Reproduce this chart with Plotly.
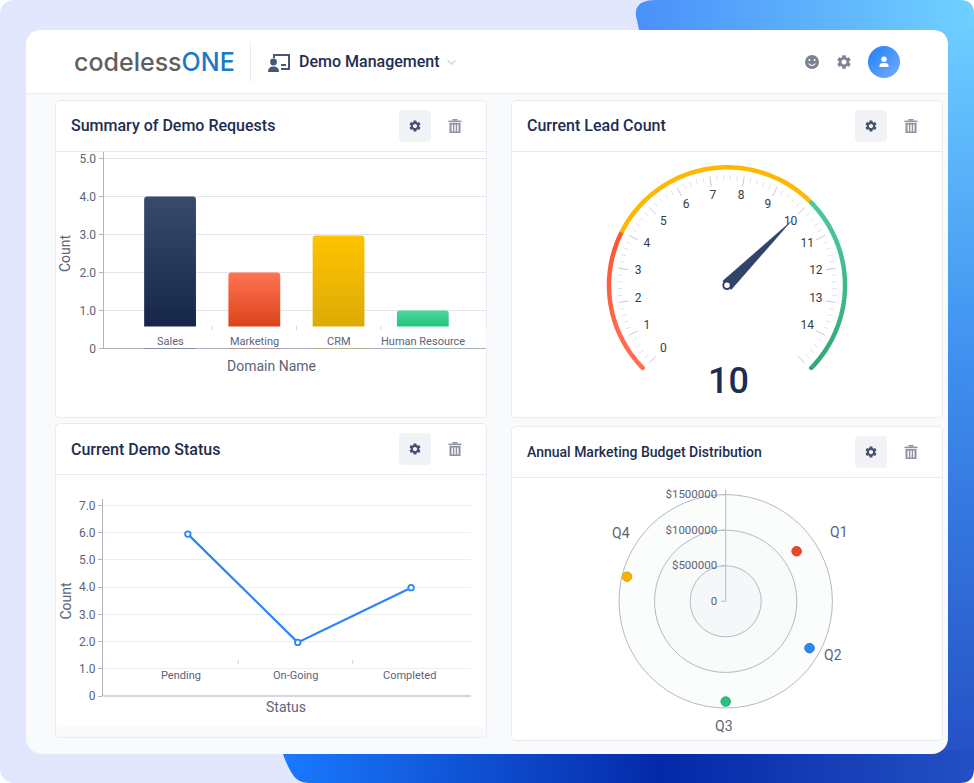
import base64
import json
import numpy as np
import plotly.graph_objects as go

W, H = 974, 783

# ---- data ----
domains = ["Sales", "Marketing", "CRM", "Human Resource"]
domain_counts = [4.0, 2.0, 2.97, 1.0]
domain_ticks = [0, 1, 2, 3, 4, 5]
domain_tick_text = ["0", "1.0", "2.0", "3.0", "4.0", "5.0"]

statuses = ["Pending", "On-Going", "Completed"]
status_pos = [0.06, 1.02, 2.01]
status_counts = [5.95, 1.97, 3.98]
status_ticks = [0, 1, 2, 3, 4, 5, 6, 7]
status_tick_text = ["0", "1.0", "2.0", "3.0", "4.0", "5.0", "6.0", "7.0"]

gauge_value = 10
gauge_max = 15
gauge_labels = list(range(15))
gauge_bands = [(0, 4), (4, 10), (10, 15)]

quarters = ["Q1", "Q2", "Q3", "Q4"]
budget = [1220000, 1350000, 1410000, 1430000]
budget_angle = [54.8, 119.2, 180, 284]
budget_ticks = [0, 500000, 1000000, 1500000]
budget_tick_text = ["0", "$500000", "$1000000", "$1500000"]

INK = "#1e2d4f"
MUTED = "#5b6479"
ROBOTO = "Roboto"


def px(x):
    return x / W


def py(y):
    return 1 - y / H


# ---- backdrop ----
def card(x0, y0, x1, y1):
    return (f'<rect x="{x0}" y="{y0}" width="{x1-x0}" height="{y1-y0}" rx="4" '
            'fill="#ffffff" stroke="#e9ebf1" stroke-width="1"/>')


def hline(y, x0, x1, c="#e9ebf1"):
    return f'<line x1="{x0}" x2="{x1}" y1="{y}" y2="{y}" stroke="{c}" stroke-width="1"/>'


cx_r, cy_r = 725.7, 601.3
backdrop = f'''<svg xmlns="http://www.w3.org/2000/svg" width="{W}" height="{H}" viewBox="0 0 {W} {H}">
<defs>
<clipPath id="blue"><path d="M656 0 L960 0 Q974 0 974 14 L974 769 Q974 783 960 783 L308 783 Q297 783 291 772 Q286 763 283 754 L639 30 L636 16 Q634 0 656 0 Z"/></clipPath>
<linearGradient id="top" x1="0" x2="1" y1="0" y2="0"><stop offset="0" stop-color="#4a8ffa"/><stop offset="1" stop-color="#6fd0ff"/></linearGradient>
<linearGradient id="right" x1="0" x2="0" y1="0" y2="1"><stop offset="0" stop-color="#6cccff"/><stop offset="0.45" stop-color="#3f90f0"/><stop offset="1" stop-color="#2450c4"/></linearGradient>
<linearGradient id="bottom" x1="0" x2="1" y1="0" y2="0"><stop offset="0" stop-color="#1a7aff"/><stop offset="0.55" stop-color="#0429a8"/><stop offset="1" stop-color="#2450c4"/></linearGradient>
</defs>
<rect x="0" y="0" width="{W}" height="{H}" fill="#ffffff"/>
<rect x="0" y="0" width="{W}" height="{H}" rx="14" fill="#e3e7fd"/>
<g clip-path="url(#blue)">
<rect x="630" y="0" width="344" height="40" fill="url(#top)"/>
<rect x="940" y="30" width="34" height="730" fill="url(#right)"/>
<rect x="280" y="750" width="694" height="33" fill="url(#bottom)"/>
</g>
<rect x="26" y="30" width="922" height="724" rx="16" fill="#f9fafc"/>
<path d="M26 93 L26 46 Q26 30 42 30 L932 30 Q948 30 948 46 L948 93 Z" fill="#ffffff"/>
{hline(93.5, 26, 948)}
<line x1="250.5" x2="250.5" y1="42" y2="82" stroke="#e9ebf1"/>
{card(55.5, 100.5, 486.5, 417.5)}{hline(151.5, 56, 486)}
{card(511.5, 100.5, 942.5, 417.5)}{hline(151.5, 512, 942)}
{card(55.5, 423.5, 486.5, 737.5)}{hline(474.5, 56, 486)}
<path d="M56.5 727 L485.5 727 L485.5 733 Q485.5 737 481.5 737 L60.5 737 Q56.5 737 56.5 733 Z" fill="#f9fafc"/>
{card(511.5, 426.5, 942.5, 740.5)}{hline(477.5, 512, 942)}
<circle cx="{cx_r}" cy="{cy_r}" r="106.7" fill="#fbfcfc"/>
<circle cx="{cx_r}" cy="{cy_r}" r="71.1" fill="#f9fafa"/>
<circle cx="{cx_r}" cy="{cy_r}" r="35.6" fill="#f6f7f8"/>
</svg>'''

GEAR = ("M19.14 12.94c.04-.3.06-.61.06-.94 0-.32-.02-.64-.07-.94l2.03-1.58a.49.49 0 0 0 .12-.61l-1.92-3.32a.488.488 0 0 0-.59-.22l-2.39.96c-.5-.38-1.03-.7-1.62-.94l-.36-2.54a.484.484 0 0 0-.48-.41h-3.84c-.24 0-.43.17-.47.41l-.36 2.54c-.59.24-1.13.57-1.62.94l-2.39-.96c-.22-.08-.47 0-.59.22L2.74 8.87c-.12.21-.08.47.12.61l2.03 1.58c-.05.3-.09.63-.09.94s.02.64.07.94l-2.03 1.58a.49.49 0 0 0-.12.61l1.92 3.32c.12.22.37.29.59.22l2.39-.96c.5.38 1.03.7 1.62.94l.36 2.54c.05.24.24.41.48.41h3.84c.24 0 .44-.17.47-.41l.36-2.54c.59-.24 1.13-.56 1.62-.94l2.39.96c.22.08.47 0 .59-.22l1.92-3.32c.12-.22.07-.47-.12-.61l-2.01-1.58zM12 15.6c-1.98 0-3.6-1.62-3.6-3.6s1.62-3.6 3.6-3.6 3.6 1.62 3.6 3.6-1.62 3.6-3.6 3.6z")


def gear(cx, cy, size, color):
    s = size / 24
    return (f'<path transform="translate({cx-size/2} {cy-size/2}) scale({s})" '
            f'd="{GEAR}" fill="{color}" fill-rule="evenodd"/>')


def trash(cx, cy):
    c = "#8d93a3"
    return (f'<g transform="translate({cx-6.5} {cy-7})" fill="{c}">'
            '<rect x="0" y="1.6" width="13" height="1.6"/><rect x="4" y="0" width="5" height="1.6"/>'
            '<path fill-rule="evenodd" d="M1 4 H12 V14 H1 Z M3 5.5 V12.5 H4.4 V5.5 Z M5.8 5.5 V12.5 H7.2 V5.5 Z M8.6 5.5 V12.5 H10 V5.5 Z"/></g>')


def button(cx, cy):
    return (f'<rect x="{cx-16}" y="{cy-16}" width="32" height="32" rx="4" fill="#f2f3f7"/>'
            + gear(cx, cy, 14, "#45516c") + trash(cx + 40, cy))


icons = f'''<svg xmlns="http://www.w3.org/2000/svg" width="{W}" height="{H}" viewBox="0 0 {W} {H}">
<defs><linearGradient id="av" x1="0" y1="0" x2="1" y2="1"><stop offset="0" stop-color="#1f7ff8"/><stop offset="1" stop-color="#74aefb"/></linearGradient></defs>
{button(415, 126)}{button(871, 126)}{button(415, 449)}{button(871, 452)}
<g fill="#44587a">
<path fill-rule="evenodd" d="M273 54 H290 V70 H281 V68 H288 V56 H275 V58 H273 Z"/>
<rect x="281" y="64" width="5" height="2"/>
<circle cx="273.5" cy="62" r="3.4"/>
<path d="M268 72 Q268 66.5 273.5 66.5 Q279 66.5 279 72 Z"/>
</g>
<path d="M447.5 60.5 L451.5 64 L455.5 60.5" fill="none" stroke="#d3d6dd" stroke-width="1.5"/>
<circle cx="812" cy="62" r="7" fill="#7c8494"/>
<circle cx="809.4" cy="60" r="1" fill="#fff"/><circle cx="814.6" cy="60" r="1" fill="#fff"/>
<path d="M808.6 63.5 Q812 67.5 815.4 63.5" fill="none" stroke="#fff" stroke-width="1.1"/>
{gear(844, 62, 17, "#7c8494")}
<circle cx="884" cy="62" r="16" fill="url(#av)"/>
<circle cx="884" cy="59.3" r="2.7" fill="#fff"/>
<path d="M879.5 67 V65.4 Q879.5 63 884 63 Q888.5 63 888.5 65.4 V67 Z" fill="#fff"/>
</svg>'''


def uri(svg):
    return "data:image/svg+xml;base64," + base64.b64encode(svg.encode()).decode()


def full_image(svg, layer):
    return dict(source=uri(svg), xref="paper", yref="paper", x=0, y=1, sizex=1, sizey=1,
                xanchor="left", yanchor="top", sizing="stretch", layer=layer)


fig = go.Figure()

# ---- bar chart ----
BAR_FLOOR_PX = 326.4   # the label band hides the lower part of every bar
fig.add_trace(go.Bar(x=domains, y=domain_counts,
                     marker=dict(color=["#263a5c", "#ee5a30", "#efb602", "#3ad08e"], line=dict(width=0)),
                     width=0.615, xaxis="x", yaxis="y", hoverinfo="skip"))

# ---- line chart ----
BLUE = "#2b85f8"
fig.add_trace(go.Scatter(x=status_pos, y=status_counts, mode="lines+markers",
                         line=dict(color=BLUE, width=2.2),
                         marker=dict(size=5.5, color="#ffffff", line=dict(color=BLUE, width=1.8)),
                         xaxis="x2", yaxis="y2", hoverinfo="skip", cliponaxis=False))


# ---- gauge ----
def angle(v):
    return v * 270 / gauge_max - 135


minor_r, minor_t, major_r, major_t = [], [], [], []
for i in range(gauge_max * 5 + 1):
    v = i / 5
    if i % 5 == 0:
        major_r += [100, 110, None]
        major_t += [angle(v), angle(v), None]
    else:
        minor_r += [105, 110, None]
        minor_t += [angle(v), angle(v), None]


def gauge_line(r, t, color, width):
    fig.add_trace(go.Scatterpolar(r=r, theta=t, mode="lines", subplot="polar",
                                  line=dict(color=color, width=width), hoverinfo="skip"))


gauge_line(minor_r, minor_t, "#e0e2e9", 1)
gauge_line(major_r, major_t, "#c4c8d4", 1)
for (lo, hi), col in zip(gauge_bands, ["#ff5533", "#ffb700", "#44c596"]):
    vals = np.linspace(lo + 0.03, hi - 0.03, 60)
    gauge_line([118] * len(vals), [angle(v) for v in vals], col, 4.5)
fig.add_trace(go.Scatterpolar(r=[90] * len(gauge_labels), theta=[angle(v) for v in gauge_labels],
                              text=[str(v) for v in gauge_labels], mode="text", subplot="polar",
                              textfont=dict(family=ROBOTO, size=12, color="#333b4a"), hoverinfo="skip"))
a = angle(gauge_value)
fig.add_trace(go.Scatterpolar(r=[90, 6, 6, 90], theta=[a, a + 90, a - 90, a], mode="lines", fill="toself",
                              fillcolor="#2f4468", line=dict(color="#2f4468", width=0.5),
                              subplot="polar", hoverinfo="skip"))
fig.add_trace(go.Scatterpolar(r=[0], theta=[0], mode="markers", subplot="polar",
                              marker=dict(size=7.5, color="#ffffff", line=dict(color="#2f4468", width=2)),
                              hoverinfo="skip"))

# ---- radar ----
fig.add_trace(go.Scatterpolar(r=budget, theta=budget_angle, mode="markers", subplot="polar2",
                              marker=dict(size=9.5, color=["#e8492a", "#2f86f5", "#27c080", "#f5b400"],
                                          line=dict(width=1, color=["#d5401f", "#2474dd", "#1fa86e", "#e0a400"])),
                              hoverinfo="skip", cliponaxis=False))

# ---- layout ----
annos = []


def note(x, y, text, size=12, color=MUTED, weight=400, anchor="center", family=ROBOTO, angle_=0, xref="paper"):
    annos.append(dict(x=x if xref != "paper" else px(x), y=py(y), xref=xref, yref="paper", text=text,
                      showarrow=False, xanchor=anchor, yanchor="middle", textangle=angle_,
                      borderpad=0, borderwidth=0,
                      font=dict(family=family, size=size, color=color, weight=weight)))


note(73.5, 62, '<span style="color:#5e5f60">codeless</span><span style="color:#2079c3">ONE</span>',
     size=25, anchor="left", family="Inter", weight=500)
note(299, 62, "Demo Management", 16, INK, 500, "left")
note(71, 125.5, "Summary of Demo Requests", 16, INK, 500, "left")
note(527, 125.5, "Current Lead Count", 16, INK, 500, "left")
note(71, 449, "Current Demo Status", 16, INK, 500, "left")
note(527, 452, "Annual Marketing Budget Distribution", 14, INK, 500, "left")
note(728, 381, str(gauge_value), 36, INK, 500)

note(65, 253, "Count", 14, MUTED, 400, angle_=-90)
note(271, 365.5, "Domain Name", 14, MUTED, 400)
note(65, 600.5, "Count", 14, MUTED, 400, angle_=-90)
note(285.5, 707, "Status", 14, MUTED, 400)
for i, d in enumerate(domains):
    note(i, 341, d, 11, MUTED, xref="x")
for i, s in enumerate(statuses):
    note(i, 675.5, s, 11, MUTED, xref="x2")
for q, x, y in zip(quarters, [838.5, 833, 724, 621], [531.5, 655, 726, 533]):
    note(x, y, q, 14, MUTED)

chart_shapes = [dict(type="rect", xref="paper", yref="paper", x0=px(104), x1=px(486.4),
                     y0=py(348), y1=py(BAR_FLOOR_PX), fillcolor="#ffffff", line=dict(width=0), layer="above")]
for b in [0.5, 1.5, 2.5]:
    chart_shapes.append(dict(type="line", xref="x", yref="paper", x0=b, x1=b, y0=py(326), y1=py(330),
                             line=dict(color="#cfd3dc", width=1)))
for b in [0.5, 1.5]:
    chart_shapes.append(dict(type="line", xref="x2", yref="paper", x0=b, x1=b, y0=py(660), y1=py(664),
                             line=dict(color="#cfd3dc", width=1)))

tick_font = dict(family=ROBOTO, size=12, color=MUTED)


def polar_domain(cx, cy, r):
    return dict(x=[px(cx - r), px(cx + r)], y=[py(cy + r), py(cy - r)])


BAR_Y_MAX = 5.17
fig.update_layout(
    template="none",
    width=W, height=H, margin=dict(l=0, r=0, t=0, b=0, pad=0), autosize=False,
    paper_bgcolor="#ffffff", plot_bgcolor="rgba(0,0,0,0)", showlegend=False,
    barcornerradius=3,
    images=[full_image(backdrop, "below"), full_image(icons, "above")],
    annotations=annos, shapes=chart_shapes,
    xaxis=dict(domain=[px(103.5), px(486)], anchor="y", range=[-0.79, 3.75], type="category",
               categoryorder="array", categoryarray=domains, showticklabels=False, ticks="",
               showgrid=False, zeroline=False, showline=False, automargin=False),
    yaxis=dict(domain=[py(348.5), py(152)], anchor="x", range=[0, BAR_Y_MAX], tickvals=domain_ticks,
               ticktext=domain_tick_text, ticks="outside", ticklen=4, tickcolor="#aeb3bf", tickwidth=1,
               tickfont=tick_font, showline=True, linecolor="#aeb3bf", linewidth=1, automargin=False,
               gridcolor="#e4e6ec", gridwidth=1, zeroline=True, zerolinecolor="#aeb3bf", zerolinewidth=1),
    xaxis2=dict(domain=[px(103), px(471)], anchor="y2", range=[-0.681, 2.533], showticklabels=False,
                ticks="", showgrid=False, zeroline=False, showline=False, automargin=False),
    yaxis2=dict(domain=[py(696), py(499)], anchor="x2", range=[0, 7.24], tickvals=status_ticks,
                ticktext=status_tick_text, ticks="outside", ticklen=4, tickcolor="#aeb3bf", tickwidth=1,
                tickfont=tick_font, showline=True, linecolor="#aeb3bf", linewidth=1, automargin=False,
                gridcolor="#eceef2", gridwidth=1.3, zeroline=True, zerolinecolor="#d2d6de", zerolinewidth=2),
    polar=dict(domain=polar_domain(727, 285.3, 125), bgcolor="rgba(0,0,0,0)",
               radialaxis=dict(visible=False, range=[0, 125]),
               angularaxis=dict(visible=False, rotation=90, direction="clockwise", thetaunit="degrees")),
    polar2=dict(domain=polar_domain(cx_r, cy_r, 112), bgcolor="rgba(0,0,0,0)",
                radialaxis=dict(range=[0, 1574500], angle=90, tickangle=90, side="counterclockwise",
                                tickvals=budget_ticks, ticktext=budget_tick_text, ticks="outside", ticklen=4,
                                tickcolor="#b5b9c5", tickfont=dict(family=ROBOTO, size=11.5, color=MUTED),
                                showline=True, linecolor="#b5b9c5", linewidth=1,
                                gridcolor="#b5b9c5", gridwidth=1),
                angularaxis=dict(rotation=90, direction="clockwise", showgrid=False, showline=False,
                                 showticklabels=False, ticks="", thetaunit="degrees")),
)

# gradient stops: each bar's bottom colour is reached where the label band starts
floor_value = (348.5 - BAR_FLOOR_PX) / (348.5 - 152) * BAR_Y_MAX
bar_stops = [round(1 - floor_value / v, 4) for v in domain_counts]

post = """
document.body.style.margin = '0';
document.documentElement.style.background = '#fff';
var gd = document.getElementById('{plot_id}');
var svg = gd.querySelector('svg.main-svg');
var NS = 'http://www.w3.org/2000/svg';
var defs = svg.querySelector('defs');
var barStops = __STOPS__;
function grad(id, c0, c1, end) {
  var g = document.createElementNS(NS, 'linearGradient');
  g.setAttribute('id', id); g.setAttribute('x1', '0'); g.setAttribute('x2', '0');
  g.setAttribute('y1', '0'); g.setAttribute('y2', '1');
  [[0, c0], [end, c1]].forEach(function (s) {
    var st = document.createElementNS(NS, 'stop');
    st.setAttribute('offset', s[0]); st.setAttribute('stop-color', s[1]);
    g.appendChild(st);
  });
  defs.appendChild(g);
}
grad('bar0', '#394b6c', '#15264a', barStops[0]);
grad('bar1', '#ff7453', '#dc431a', barStops[1]);
grad('bar2', '#ffc400', '#dcaa05', barStops[2]);
grad('bar3', '#4fd79f', '#25c47d', barStops[3]);
grad('arcR', '#ff5533', '#ff6f55', 1);
grad('arcG', '#4cc99a', '#33a877', 1);
gd.querySelectorAll('.barlayer .point path').forEach(function (p, i) {
  p.style.fill = 'url(#bar' + i + ')';
});
var arcs = {'rgb(255, 85, 51)': 'arcR', 'rgb(68, 197, 150)': 'arcG', 'rgb(255, 183, 0)': null};
gd.querySelectorAll('path.js-line').forEach(function (p) {
  var s = p.style.stroke;
  if (s in arcs) {
    p.style.strokeLinecap = 'round';
    if (arcs[s]) p.style.stroke = 'url(#' + arcs[s] + ')';
  }
});
""".replace("__STOPS__", json.dumps(bar_stops))

fig.write_html("out.html", post_script=post, config=dict(displayModeBar=False, responsive=False))
